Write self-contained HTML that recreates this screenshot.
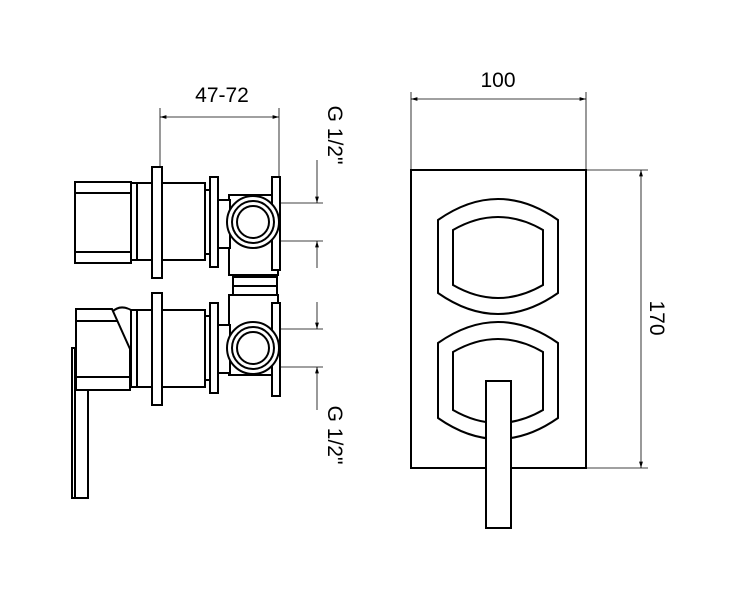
<!DOCTYPE html>
<html><head><style>body{margin:0;background:#fff}svg{display:block}</style></head><body>
<svg width="741" height="600" viewBox="0 0 741 600" xmlns="http://www.w3.org/2000/svg" font-family="Liberation Sans, sans-serif">
<defs>
<marker id="a" viewBox="0 0 10 10" refX="10" refY="5" markerWidth="8" markerHeight="8" orient="auto-start-reverse"><path d="M0,2 L10,5 L0,8 z" fill="#000"/></marker>
</defs>
<g fill="none" stroke="#000" stroke-width="0.8">
<!-- 47-72 dimension -->
<line x1="160" y1="108" x2="160" y2="170"/>
<line x1="279" y1="108" x2="279" y2="180"/>
<line x1="160" y1="117" x2="279" y2="117" marker-start="url(#a)" marker-end="url(#a)"/>
<!-- G1/2 dims -->
<line x1="278" y1="203" x2="323" y2="203"/><line x1="278" y1="241" x2="323" y2="241"/>
<line x1="317" y1="160" x2="317" y2="203" marker-end="url(#a)"/><line x1="317" y1="268" x2="317" y2="241" marker-end="url(#a)"/>
<line x1="278" y1="329" x2="323" y2="329"/><line x1="278" y1="367" x2="323" y2="367"/>
<line x1="317" y1="302" x2="317" y2="329" marker-end="url(#a)"/><line x1="317" y1="410" x2="317" y2="367" marker-end="url(#a)"/>
<!-- 100 dim -->
<line x1="411" y1="92" x2="411" y2="170"/><line x1="586" y1="92" x2="586" y2="170"/>
<line x1="411" y1="99" x2="586" y2="99" marker-start="url(#a)" marker-end="url(#a)"/>
<!-- 170 dim -->
<line x1="586" y1="170" x2="648" y2="170"/><line x1="586" y1="468" x2="648" y2="468"/>
<line x1="641" y1="170" x2="641" y2="468" marker-start="url(#a)" marker-end="url(#a)"/>
</g>
<g fill="#000" font-size="21">
<text x="222" y="102" text-anchor="middle">47-72</text>
<text x="498" y="87" text-anchor="middle">100</text>
<text transform="translate(650,318) rotate(90)" text-anchor="middle">170</text>
<text transform="translate(328,135) rotate(90)" text-anchor="middle">G 1/2"</text>
<text transform="translate(328,435) rotate(90)" text-anchor="middle">G 1/2"</text>
</g>
<g fill="#fff" stroke="#000" stroke-width="2">
<!-- right plate -->
<rect x="411" y="170" width="175" height="298"/>
<path d="M438,220 Q498,178 558,220 L558,293 Q498,335 438,293 Z"/>
<path d="M453,230 Q498,204 543,230 L543,285 Q498,311 453,285 Z"/>
<path d="M438,343 Q498,301 558,343 L558,418 Q498,460 438,418 Z"/>
<path d="M453,352 Q498,326 543,352 L543,410 Q498,436 453,410 Z"/>
<rect x="486" y="381" width="25" height="147"/>
<!-- left: top valve -->
<rect x="229" y="195" width="49" height="80"/>
<rect x="233" y="277" width="44" height="18"/>
<line x1="233" y1="286" x2="277" y2="286"/>
<rect x="229" y="295" width="49" height="80"/>
<rect x="75" y="182" width="56" height="81"/>
<line x1="75" y1="193" x2="131" y2="193"/><line x1="75" y1="252" x2="131" y2="252"/>
<rect x="131" y="183" width="74" height="77"/><line x1="137" y1="183" x2="137" y2="260"/>
<rect x="152" y="167" width="10" height="111"/>
<rect x="205" y="190" width="13" height="64"/>
<rect x="210" y="177" width="8" height="90"/>
<rect x="218" y="200" width="12" height="48"/>
<rect x="272" y="177" width="8" height="93"/>
<circle cx="253" cy="222" r="26"/><circle cx="253" cy="222" r="21"/><circle cx="253" cy="222" r="16"/>
<!-- bottom valve -->
<rect x="131" y="310" width="74" height="77"/><line x1="137" y1="310" x2="137" y2="387"/>
<path d="M112,312 Q120,304 131,310" fill="none"/>
<rect x="152" y="293" width="10" height="112"/>
<rect x="205" y="316" width="13" height="64"/>
<rect x="210" y="303" width="8" height="90"/>
<rect x="218" y="325" width="12" height="48"/>
<rect x="272" y="303" width="8" height="93"/>
<circle cx="253" cy="348" r="26"/><circle cx="253" cy="348" r="21"/><circle cx="253" cy="348" r="16"/>
<rect x="72" y="348" width="3" height="150" stroke-width="2"/>
<rect x="75" y="389" width="13" height="109"/>
<path d="M76,309 L112,309 L130,349 L130,390 L76,390 Z"/>
<line x1="76" y1="321" x2="117" y2="321"/><line x1="76" y1="377" x2="130" y2="377"/>
</g>
</svg>
</body></html>
